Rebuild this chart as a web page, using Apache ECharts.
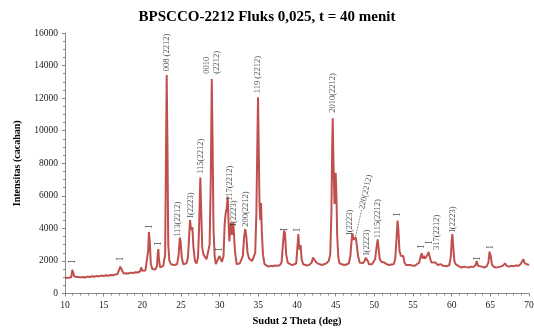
<!DOCTYPE html>
<html><head><meta charset="utf-8">
<script src="https://cdn.jsdelivr.net/npm/echarts@6/dist/echarts.min.js"></script>
<style>html,body{margin:0;padding:0;background:#fff}#c{width:534px;height:328px}</style>
</head><body><div id="c"></div>
<script>
// XRD scan [2theta (deg), intensity (cacahan)]
const scan10to30 = [[10.0,950],[10.2,920],[10.4,960],[10.6,930],[10.8,1000],[10.95,1450],[11.05,1350],[11.2,1050],[11.4,980],[11.6,1020],[11.8,960],[12.0,990],[12.3,1010],[12.6,980],[12.9,1040],[13.2,1010],[13.5,1060],[13.8,1030],[14.1,1080],[14.4,1050],[14.7,1100],[15.0,1080],[15.3,1120],[15.6,1090],[15.9,1140],[16.2,1120],[16.5,1170],[16.8,1200],[17.0,1260],[17.15,1650],[17.3,1720],[17.45,1350],[17.6,1220],[17.9,1250],[18.2,1230],[18.5,1280],[18.8,1260],[19.1,1300],[19.4,1290],[19.7,1350],[19.85,1600],[20.0,1400],[20.2,1380],[20.4,1420],[20.6,1500],[20.75,2600],[20.85,3780],[20.95,3300],[21.1,1800],[21.3,1500],[21.5,1450],[21.7,1480],[21.9,1700],[22.0,2500],[22.07,2730],[22.15,2100],[22.3,1600],[22.5,1550],[22.7,1700],[22.85,1600],[22.95,2400],[23.05,8000],[23.15,13420],[23.25,9000],[23.35,3000],[23.5,2000],[23.7,1800],[23.9,1850],[24.1,1750],[24.3,1700],[24.5,1800],[24.7,2400],[24.85,3430],[24.95,3200],[25.1,2200],[25.3,1800],[25.5,1750],[25.7,1850],[25.9,2200],[26.05,3500],[26.17,4510],[26.3,3900],[26.47,4080],[26.6,2900],[26.8,2000],[27.0,1850],[27.2,2200],[27.35,4200],[27.5,7130],[27.62,5000],[27.75,2800],[27.9,2400],[28.1,2500],[28.3,2100],[28.5,2200],[28.7,3000],[28.85,7000],[28.98,13170],[29.08,9500],[29.2,4000],[29.35,2300],[29.5,1800],[29.7,1850],[29.95,2300]];
const scan30to50 = [[30.1,2150],[30.3,1950],[30.5,2300],[30.65,4300],[30.78,4940],[30.9,5200],[31.04,5950],[31.15,4400],[31.25,3200],[31.35,3800],[31.47,4350],[31.6,3600],[31.77,4330],[31.9,3200],[32.0,2500],[32.2,1800],[32.4,1750],[32.6,1850],[32.8,1800],[33.0,2300],[33.15,3400],[33.3,3960],[33.45,3500],[33.6,2500],[33.8,2150],[34.0,2100],[34.2,2000],[34.4,2250],[34.6,2500],[34.75,5000],[34.88,9500],[34.96,12050],[35.05,9000],[35.15,5600],[35.25,4500],[35.35,5560],[35.45,3800],[35.6,2400],[35.8,1800],[36.0,1700],[36.3,1650],[36.6,1700],[36.9,1680],[37.2,1720],[37.5,1700],[37.8,1750],[38.0,1900],[38.15,2800],[38.32,3860],[38.45,3700],[38.6,2400],[38.8,1900],[39.0,1800],[39.3,1750],[39.6,1780],[39.9,1850],[40.05,2800],[40.17,3650],[40.3,2700],[40.47,2980],[40.6,2100],[40.8,1800],[41.0,1750],[41.3,1720],[41.6,1760],[41.9,1900],[42.05,2200],[42.2,2260],[42.35,2000],[42.5,2100],[42.65,1850],[42.9,1780],[43.2,1750],[43.5,1800],[43.8,1850],[44.1,2000],[44.3,2400],[44.45,5000],[44.55,9000],[44.62,10760],[44.72,8000],[44.85,5500],[45.0,7420],[45.1,6000],[45.2,3500],[45.35,2200],[45.5,1850],[45.8,1800],[46.1,1750],[46.4,1780],[46.7,1850],[46.9,2300],[47.05,3200],[47.16,3700],[47.3,3300],[47.45,3400],[47.6,3450],[47.75,2900],[47.9,2300],[48.1,1900],[48.3,1800],[48.5,1850],[48.75,2000],[48.9,2200],[49.0,2300],[49.15,2000],[49.3,1800],[49.5,1750],[49.7,1800],[49.9,1850]];
const scan50to70 = [[50.1,2100],[50.3,2900],[50.43,3330],[50.55,2800],[50.7,2100],[50.9,1950],[51.1,2060],[51.3,1900],[51.6,1800],[51.9,1750],[52.2,1780],[52.5,1800],[52.7,2100],[52.85,3200],[53.0,4470],[53.1,4000],[53.25,2600],[53.45,2300],[53.6,2200],[53.75,2300],[53.9,1900],[54.1,1750],[54.3,1700],[54.6,1750],[54.9,1720],[55.2,1700],[55.5,1800],[55.8,1900],[55.95,2200],[56.12,2470],[56.25,2150],[56.4,2300],[56.55,2150],[56.7,2200],[56.85,2350],[57.0,2550],[57.1,2630],[57.25,2100],[57.4,1900],[57.6,1850],[57.9,1900],[58.06,2000],[58.2,1750],[58.4,1700],[58.6,1800],[58.75,1900],[58.9,1700],[59.1,1650],[59.4,1680],[59.7,1750],[59.9,2300],[60.0,3200],[60.09,3650],[60.2,2900],[60.35,2000],[60.5,1800],[60.7,1700],[61.0,1650],[61.3,1600],[61.6,1650],[61.9,1620],[62.2,1600],[62.5,1650],[62.8,1620],[63.1,1750],[63.24,2000],[63.4,1700],[63.6,1620],[63.9,1650],[64.2,1600],[64.5,1650],[64.75,1900],[64.9,2570],[65.05,2300],[65.2,1800],[65.4,1650],[65.7,1600],[66.0,1620],[66.3,1650],[66.6,1700],[66.9,1850],[67.1,1700],[67.4,1650],[67.7,1700],[68.0,1680],[68.3,1720],[68.6,1700],[68.9,1800],[69.1,1900],[69.27,2100],[69.45,1850],[69.7,1800],[70.0,1750]];

// peak annotations: [2theta, intensity at label foot, text]
const peakLabels = [[23.15,13650,'008 (2212)'],[29.0,13500,'0010\n(2212)'],[34.98,12300,'119 (2212)'],[44.6,11100,'2010(2212)'],[27.5,7350,'115(2212)'],[24.52,3480,'113(2212)'],[26.29,4650,'I(2223)'],[31.28,5700,'117(2212)'],[31.85,4150,'I(2223)'],[33.37,4100,'200(2212)'],[46.85,3590,'I(2223)'],[49.05,2350,'I(2223)'],[50.4,3400,'1115(2212)'],[58.07,2670,'317(2212)'],[60.13,3780,'I(2223)']];
const slantLabel = [[48.37,5170,'220(2212)']];
const slantLeader = [[47.55,3450],[48.37,5170]];
// small "I" phase markers above peaks: [2theta, intensity]
const phaseMarks = [[11.0,1950],[17.2,2120],[20.9,4100],[22.12,3060],[30.0,2710],[38.32,3940],[40.0,3900],[53.02,4860],[56.04,2870],[57.11,3140],[63.37,2160],[64.96,2840]];
const xTicks = {min:10, max:70, step:5};
const yTicks = {min:0, max:16000, step:2000};

const serif = '"Liberation Serif","Times New Roman",serif';
const chart = echarts.init(document.getElementById('c'), null, {renderer:'canvas'});
chart.setOption({
  animation:false,
  title:{text:'BPSCCO-2212 Fluks 0,025, t = 40 menit', left:'center', top:5,
    textStyle:{fontFamily:serif, fontSize:15, fontWeight:'bold', color:'#000'}},
  grid:{left:65, right:5, top:33, bottom:34.5, containLabel:false, outerBoundsMode:'none'},
  xAxis:{type:'value', min:xTicks.min, max:xTicks.max, interval:xTicks.step,
    name:'Sudut 2 Theta (deg)', nameLocation:'middle', nameGap:22,
    nameTextStyle:{fontFamily:serif, fontSize:10.5, fontWeight:'bold', color:'#000'},
    axisLine:{lineStyle:{color:'#888'}}, axisTick:{length:3, lineStyle:{color:'#888'}},
    minorTick:{show:true, splitNumber:5, length:2, lineStyle:{color:'#888'}},
    splitLine:{show:false},
    axisLabel:{fontFamily:serif, fontSize:9.5, color:'#222', margin:7, formatter:v=>String(v)}},
  yAxis:{type:'value', min:yTicks.min, max:yTicks.max, interval:yTicks.step,
    name:'Intensitas (cacahan)', nameLocation:'middle', nameGap:43,
    nameTextStyle:{fontFamily:serif, fontSize:10, fontWeight:'bold', color:'#000'},
    axisLine:{show:true, lineStyle:{color:'#888'}}, axisTick:{show:true, length:3, lineStyle:{color:'#888'}},
    minorTick:{show:true, splitNumber:4, length:2, lineStyle:{color:'#888'}},
    splitLine:{show:false},
    axisLabel:{fontFamily:serif, fontSize:9.5, color:'#222', margin:7, formatter:v=>String(v)}},
  series:[
    {type:'line', data:scan10to30.concat(scan30to50, scan50to70), showSymbol:false, symbol:'none',
      lineStyle:{color:'#C0504D', width:2}, z:2},
    {type:'scatter', data:peakLabels, symbolSize:0, z:5,
      label:{show:true, position:'top', distance:0, rotate:90, align:'left', verticalAlign:'middle',
        formatter:p=>p.data[2], fontFamily:serif, fontSize:8.5, color:'#222', lineHeight:10}},
    {type:'scatter', data:slantLabel, symbolSize:0, z:5,
      label:{show:true, position:'top', distance:0, rotate:77, align:'left', verticalAlign:'middle',
        formatter:p=>p.data[2], fontFamily:serif, fontSize:8.5, color:'#222'}},
    {type:'line', data:slantLeader, symbol:'none', lineStyle:{color:'#444', width:0.8, type:'dotted'}, z:4},
    {type:'scatter', data:phaseMarks, symbolSize:0, z:5,
      label:{show:true, position:'inside', rotate:90, align:'center', verticalAlign:'middle',
        formatter:'I', fontFamily:serif, fontSize:9.5, color:'#222'}}
  ]
});
</script></body></html>
